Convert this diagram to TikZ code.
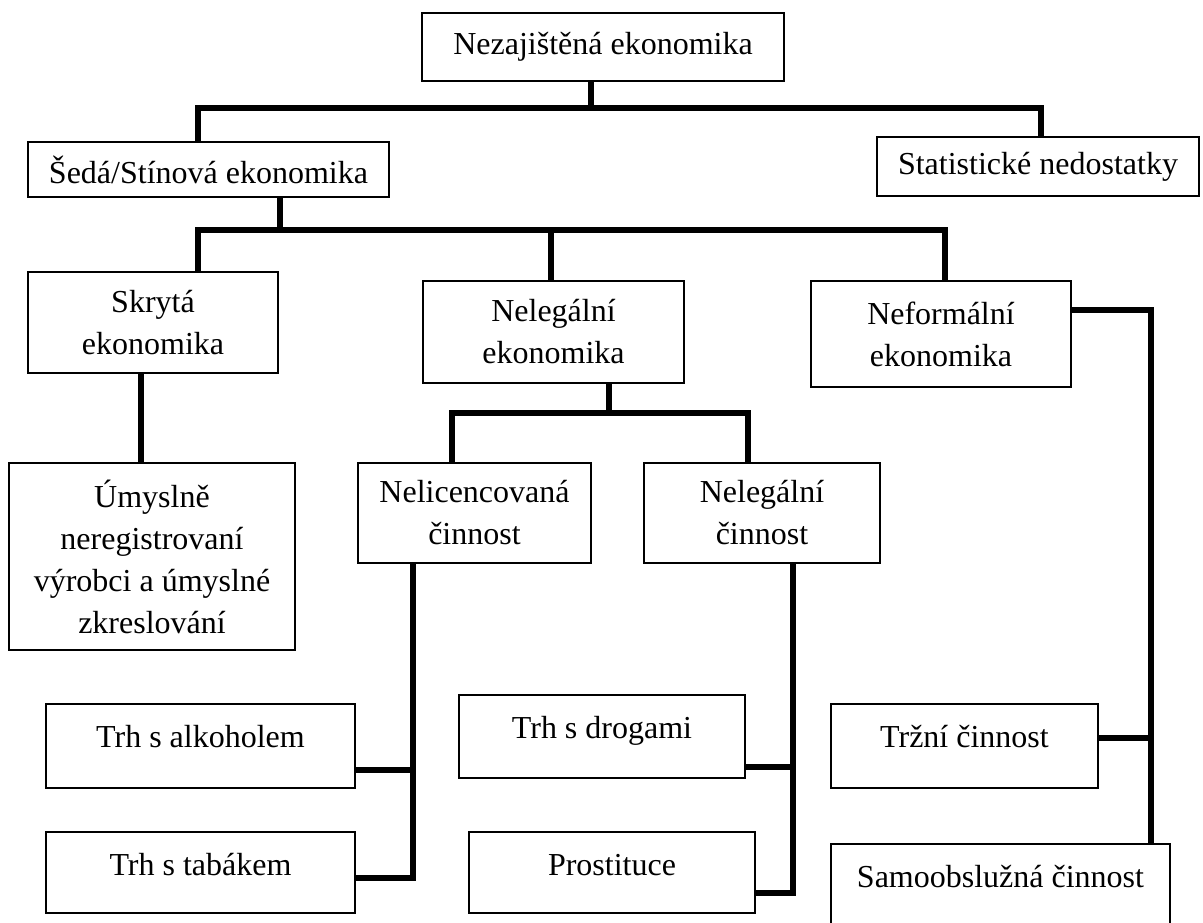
\documentclass[tikz,border=0pt]{standalone}
\usepackage{fontspec}
\setmainfont{Liberation Serif}

\begin{document}
\begin{tikzpicture}[x=1pt,y=-1pt,
                    box/.style={draw,line width=1.5pt,inner sep=0pt,align=center,font=\fontsize{32}{42}\selectfont},
                    lowbox/.style={box,text height=43pt,text depth=#1},
                    link/.style={line width=6.5pt,line join=miter}]
                    \useasboundingbox (0,0) rectangle (1203,922);

                    \node[box,minimum width=362pt,minimum height=68pt] (nezaj) at (603,47) {Nezajištěná ekonomika};
                    \node[box,minimum width=361pt,minimum height=55pt] (seda) at (208.5,169.5) {Šedá/Stínová ekonomika};
                    \node[box,minimum width=322pt,minimum height=59pt] (stat) at (1038,166.5) {Statistické nedostatky};
                    \node[box,minimum width=250pt,minimum height=101pt] (skryta) at (153,322.5) {Skrytá\\ekonomika};
                    \node[box,minimum width=261pt,minimum height=102pt] (nelegeko) at (553.5,332) {Nelegální\\ekonomika};
                    \node[box,minimum width=260pt,minimum height=106pt] (neform) at (941,334) {Neformální\\ekonomika};
                    \node[box,minimum width=286pt,minimum height=187pt] (umysl) at (152,556.5) {Úmyslně\\neregistrovaní\\výrobci a úmyslné\\zkreslování};
                    \node[box,minimum width=233pt,minimum height=100pt] (nelic) at (474.5,513) {Nelicencovaná\\činnost};
                    \node[box,minimum width=236pt,minimum height=100pt] (nelegcin) at (762,513) {Nelegální\\činnost};
                    \node[lowbox=41pt,minimum width=309pt] (alkohol) at (200.5,746) {Trh s alkoholem};
                    \node[lowbox=38pt,minimum width=309pt] (tabak) at (200.5,872.5) {Trh s tabákem};
                    \node[lowbox=40pt,minimum width=286pt] (drogy) at (602,736.5) {Trh s drogami};
                    \node[lowbox=38pt,minimum width=286pt] (prostit) at (612,872.5) {Prostituce};
                    \node[lowbox=41pt,minimum width=267pt] (trzni) at (964.5,746) {Tržní činnost};
                    \node[lowbox=38pt,minimum width=339pt] (samoobs) at (1000.5,884.5) {Samoobslužná činnost};

                    \coordinate (b1) at (591,108);
                    \coordinate (b1l) at (198,108);
                    \coordinate (b1r) at (1041,108);
                    \draw[link] (nezaj.south -| b1) -- (b1);
                    \draw[link] (seda.north -| b1l) -- (b1l) -- (b1r) -- (stat.north -| b1r);

                    \coordinate (b2) at (280,230);
                    \coordinate (b2l) at (198,230);
                    \coordinate (b2m) at (551,230);
                    \coordinate (b2r) at (945,230);
                    \draw[link] (seda.south -| b2) -- (b2);
                    \draw[link] (skryta.north -| b2l) -- (b2l) -- (b2r) -- (neform.north -| b2r);
                    \draw[link] (b2m) -- (nelegeko.north -| b2m);

                    \coordinate (s1) at (141,373);
                    \draw[link] (skryta.south -| s1) -- (umysl.north -| s1);

                    \coordinate (b3) at (609,413);
                    \coordinate (b3l) at (452,413);
                    \coordinate (b3r) at (748,413);
                    \draw[link] (nelegeko.south -| b3) -- (b3);
                    \draw[link] (nelic.north -| b3l) -- (b3l) -- (b3r) -- (nelegcin.north -| b3r);

                    \coordinate (t1) at (413,878);
                    \coordinate (t1a) at (413,770);
                    \draw[link] (nelic.south -| t1) -- (t1) -- (tabak.east |- t1);
                    \draw[link] (alkohol.east |- t1a) -- (t1a);

                    \coordinate (t2) at (793,893);
                    \coordinate (t2a) at (793,767);
                    \draw[link] (nelegcin.south -| t2) -- (t2) -- (prostit.east |- t2);
                    \draw[link] (drogy.east |- t2a) -- (t2a);

                    \coordinate (t3) at (1151,310);
                    \coordinate (t3a) at (1151,738);
                    \draw[link] (neform.east |- t3) -- (t3) -- (samoobs.north -| t3);
                    \draw[link] (trzni.east |- t3a) -- (t3a);
                \end{tikzpicture}
\end{document}
